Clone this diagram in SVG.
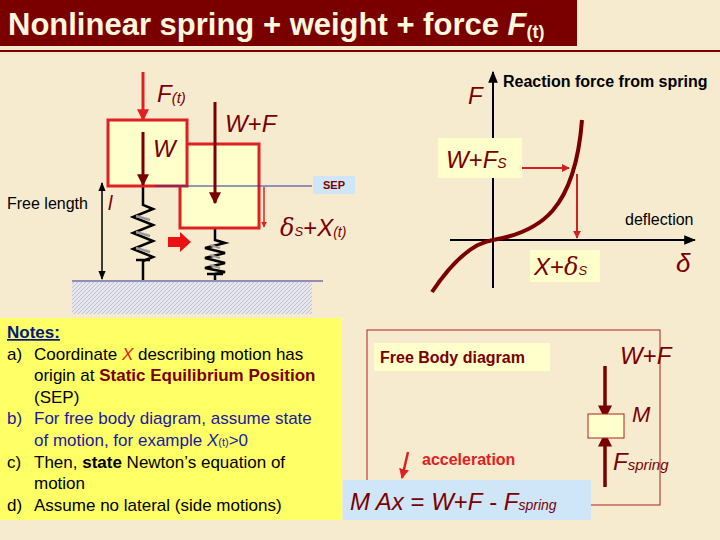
<svg xmlns="http://www.w3.org/2000/svg" width="720" height="540" viewBox="0 0 720 540">
<defs>
<style>
text{font-family:"Liberation Sans",Arial,sans-serif}
.it{font-style:italic}
.dr{fill:#7a0000}
.box{fill:#ffffcc;stroke:#e02020;stroke-width:3}
.ln{fill:none;stroke-linecap:butt}
</style>
<marker id="ar" viewBox="0 0 10 10" refX="9" refY="5" markerWidth="4" markerHeight="4" orient="auto-start-reverse"><path d="M0,0L10,5L0,10z" fill="context-stroke"/></marker>
<marker id="ab" viewBox="0 0 10 10" refX="9" refY="5" markerWidth="6" markerHeight="6" orient="auto-start-reverse"><path d="M0,1L10,5L0,9z" fill="#000"/></marker>
<pattern id="hat" width="4" height="4" patternUnits="userSpaceOnUse"><rect width="4" height="4" fill="#e6e6ee"/><path d="M0,4L4,0" stroke="#b8b8c8" stroke-width="0.8"/></pattern>
</defs>
<rect width="720" height="540" fill="#f6ebcf"/>
<g id="title">
<rect x="0" y="0" width="577" height="46" fill="#7a0000"/>
<line x1="0" y1="51" x2="720" y2="51" stroke="#7a0000" stroke-width="2"/>
<text x="8" y="35" font-size="31" font-weight="bold" fill="#fff8dc">Nonlinear spring + weight + force <tspan class="it">F</tspan><tspan font-size="18" dy="3">(t)</tspan></text>
</g>
<g id="ground">
<rect x="72" y="282" width="240" height="32" fill="url(#hat)"/>
<line x1="72" y1="281" x2="323" y2="281" stroke="#3030a0" stroke-width="1"/>
</g>
<g id="springs" class="ln">
<path d="M143,186V205l10,4-20,8 20,8-20,8 20,8-20,8 20,8-10,4V280" stroke="#000" stroke-width="2.5"/>
<path d="M215,228V240l10,3-20,5 20,5-20,5 20,5-20,5 20,4-10,2V280" stroke="#000" stroke-width="2.5"/>
<path d="M136,216l14,4M136,232l14,4M136,248l14,4" stroke="#999" stroke-width="2.5"/>
<path d="M210,245l10,3M210,255l10,3M210,265l10,3" stroke="#999" stroke-width="2"/>
<line x1="136" y1="260" x2="150" y2="260" stroke="#000" stroke-width="2.5"/>
<line x1="207" y1="274" x2="223" y2="274" stroke="#000" stroke-width="2.5"/>
</g>
<g id="box2"><rect class="box" x="180" y="144" width="79" height="84"/></g>
<g id="box1"><rect class="box" x="108" y="120" width="79" height="66"/></g>
<g id="sep">
<line x1="155" y1="186" x2="312" y2="186" stroke="#3030a0" stroke-width="1"/>
<rect x="313" y="176" width="42" height="18" fill="#cfe6f8"/>
<text x="323" y="189" font-size="11" font-weight="bold" class="dr">SEP</text>
</g>
<g id="labels-left">
<text x="157" y="102" font-size="24" class="it dr">F<tspan font-size="15" dy="1">(t)</tspan></text>
<text x="153" y="157" font-size="24" class="it dr">W</text>
<text x="225" y="132" font-size="24" class="dr"><tspan class="it">W</tspan>+<tspan class="it">F</tspan></text>
<text x="7" y="209" font-size="16" fill="#000">Free length</text>
<text x="108" y="210" font-size="20" class="it dr">l</text>
<text x="280" y="236" font-size="24" class="dr"><tspan font-family="'DejaVu Serif',serif" class="it">δ</tspan><tspan font-size="13" class="it">S</tspan>+<tspan class="it">X</tspan><tspan font-size="14" class="it" dy="1">(t)</tspan></text>
<path d="M168,237h12v-5l11,10-11,10v-5h-12z" fill="#ee1111"/>
</g>
<g id="connectors" class="ln">
<line x1="143" y1="72" x2="143" y2="120" stroke="#e02020" stroke-width="3" marker-end="url(#ar)"/>
<line x1="143" y1="132" x2="143" y2="185" stroke="#7a0000" stroke-width="3" marker-end="url(#ar)"/>
<line x1="215" y1="102" x2="215" y2="203" stroke="#7a0000" stroke-width="3" marker-end="url(#ar)"/>
<line x1="264" y1="187" x2="264" y2="227" stroke="#e02020" stroke-width="1.5" marker-end="url(#ar)"/>
<line x1="102" y1="183" x2="102" y2="279" stroke="#000" stroke-width="1.5" marker-start="url(#ab)" marker-end="url(#ab)"/>
<line x1="493" y1="288" x2="493" y2="72" stroke="#000" stroke-width="2" marker-end="url(#ab)"/>
<line x1="450" y1="240" x2="695" y2="240" stroke="#000" stroke-width="2" marker-end="url(#ab)"/>
<path d="M522,168H569" stroke="#d02020" stroke-width="2" marker-end="url(#ar)"/>
<path d="M577,174V238" stroke="#d02020" stroke-width="2" marker-end="url(#ar)"/>
<path d="M432,292C460,250 480,242 493,240C540,232 575,210 582,120" stroke="#7a0000" stroke-width="4"/>
<line x1="605" y1="366" x2="605" y2="418" stroke="#7a0000" stroke-width="3.5" marker-end="url(#ar)"/>
<line x1="605" y1="487" x2="605" y2="434" stroke="#7a0000" stroke-width="3.5" marker-end="url(#ar)"/>
<line x1="408" y1="452" x2="402" y2="478" stroke="#e02020" stroke-width="2.5" marker-end="url(#ar)"/>
</g>
<g id="graph-labels">
<text x="468" y="104" font-size="24" class="it dr">F</text>
<text x="503" y="87" font-size="16" font-weight="bold" fill="#000">Reaction force from spring</text>
<rect x="438" y="138" width="84" height="40" fill="#ffffcc"/>
<text x="446" y="168" font-size="24" class="dr"><tspan class="it">W</tspan>+<tspan class="it">F</tspan><tspan font-size="14" class="it">S</tspan></text>
<text x="625" y="225" font-size="16" fill="#000">deflection</text>
<rect x="530" y="250" width="70" height="32" fill="#ffffcc"/>
<text x="534" y="275" font-size="24" class="dr"><tspan class="it">X</tspan>+<tspan font-family="'DejaVu Serif',serif" class="it">δ</tspan><tspan font-size="13" class="it">S</tspan></text>
<text x="676" y="272" font-size="26" font-family="'DejaVu Serif',serif" class="it dr">δ</text>
</g>
<g id="notes">
<rect x="0" y="318" width="342" height="202" fill="#ffff66"/>
<g font-size="17" fill="#000">
<text x="7" y="338" font-weight="bold" fill="#001a80" text-decoration="underline">Notes:</text>
<text x="7" y="360">a)</text><text x="34" y="360">Coordinate <tspan class="it" fill="#e02020">X</tspan> describing motion has</text>
<text x="34" y="381">origin at <tspan font-weight="bold" fill="#7a0000">Static Equilibrium Position</tspan></text>
<text x="34" y="403">(SEP)</text>
<text x="7" y="424" fill="#1a1aa0">b)</text><text x="34" y="424" fill="#1a1aa0">For free body diagram, assume state</text>
<text x="34" y="446" fill="#1a1aa0">of motion, for example <tspan class="it">X</tspan><tspan font-size="11">(t)</tspan>&gt;0</text>
<text x="7" y="468">c)</text><text x="34" y="468">Then, <tspan font-weight="bold">state</tspan> Newton’s equation of</text>
<text x="34" y="489">motion</text>
<text x="7" y="511">d)</text><text x="34" y="511">Assume no lateral (side motions)</text>
</g>
</g>
<g id="fbd">
<rect x="367" y="330" width="293" height="175" fill="none" stroke="#b02020" stroke-width="1"/>
<rect x="374" y="343" width="176" height="28" fill="#ffffcc"/>
<text x="380" y="363" font-size="16" font-weight="bold" class="dr">Free Body diagram</text>
<text x="620" y="364" font-size="24" class="dr"><tspan class="it">W</tspan>+<tspan class="it">F</tspan></text>
<rect x="588" y="414" width="36" height="24" fill="#ffffcc" stroke="#b02020" stroke-width="1"/>
<text x="632" y="422" font-size="22" class="it dr">M</text>
<text x="613" y="470" font-size="24" class="it dr">F<tspan font-size="15">spring</tspan></text>
<text x="422" y="465" font-size="16" font-weight="bold" fill="#e02020">acceleration</text>
<rect x="343" y="480" width="248" height="40" fill="#cfe6f8"/>
<text x="350" y="510" font-size="24" class="dr"><tspan class="it">M Ax</tspan> = <tspan class="it">W</tspan>+<tspan class="it">F</tspan> - <tspan class="it">F</tspan><tspan font-size="14" class="it">spring</tspan></text>
</g>
</svg>
